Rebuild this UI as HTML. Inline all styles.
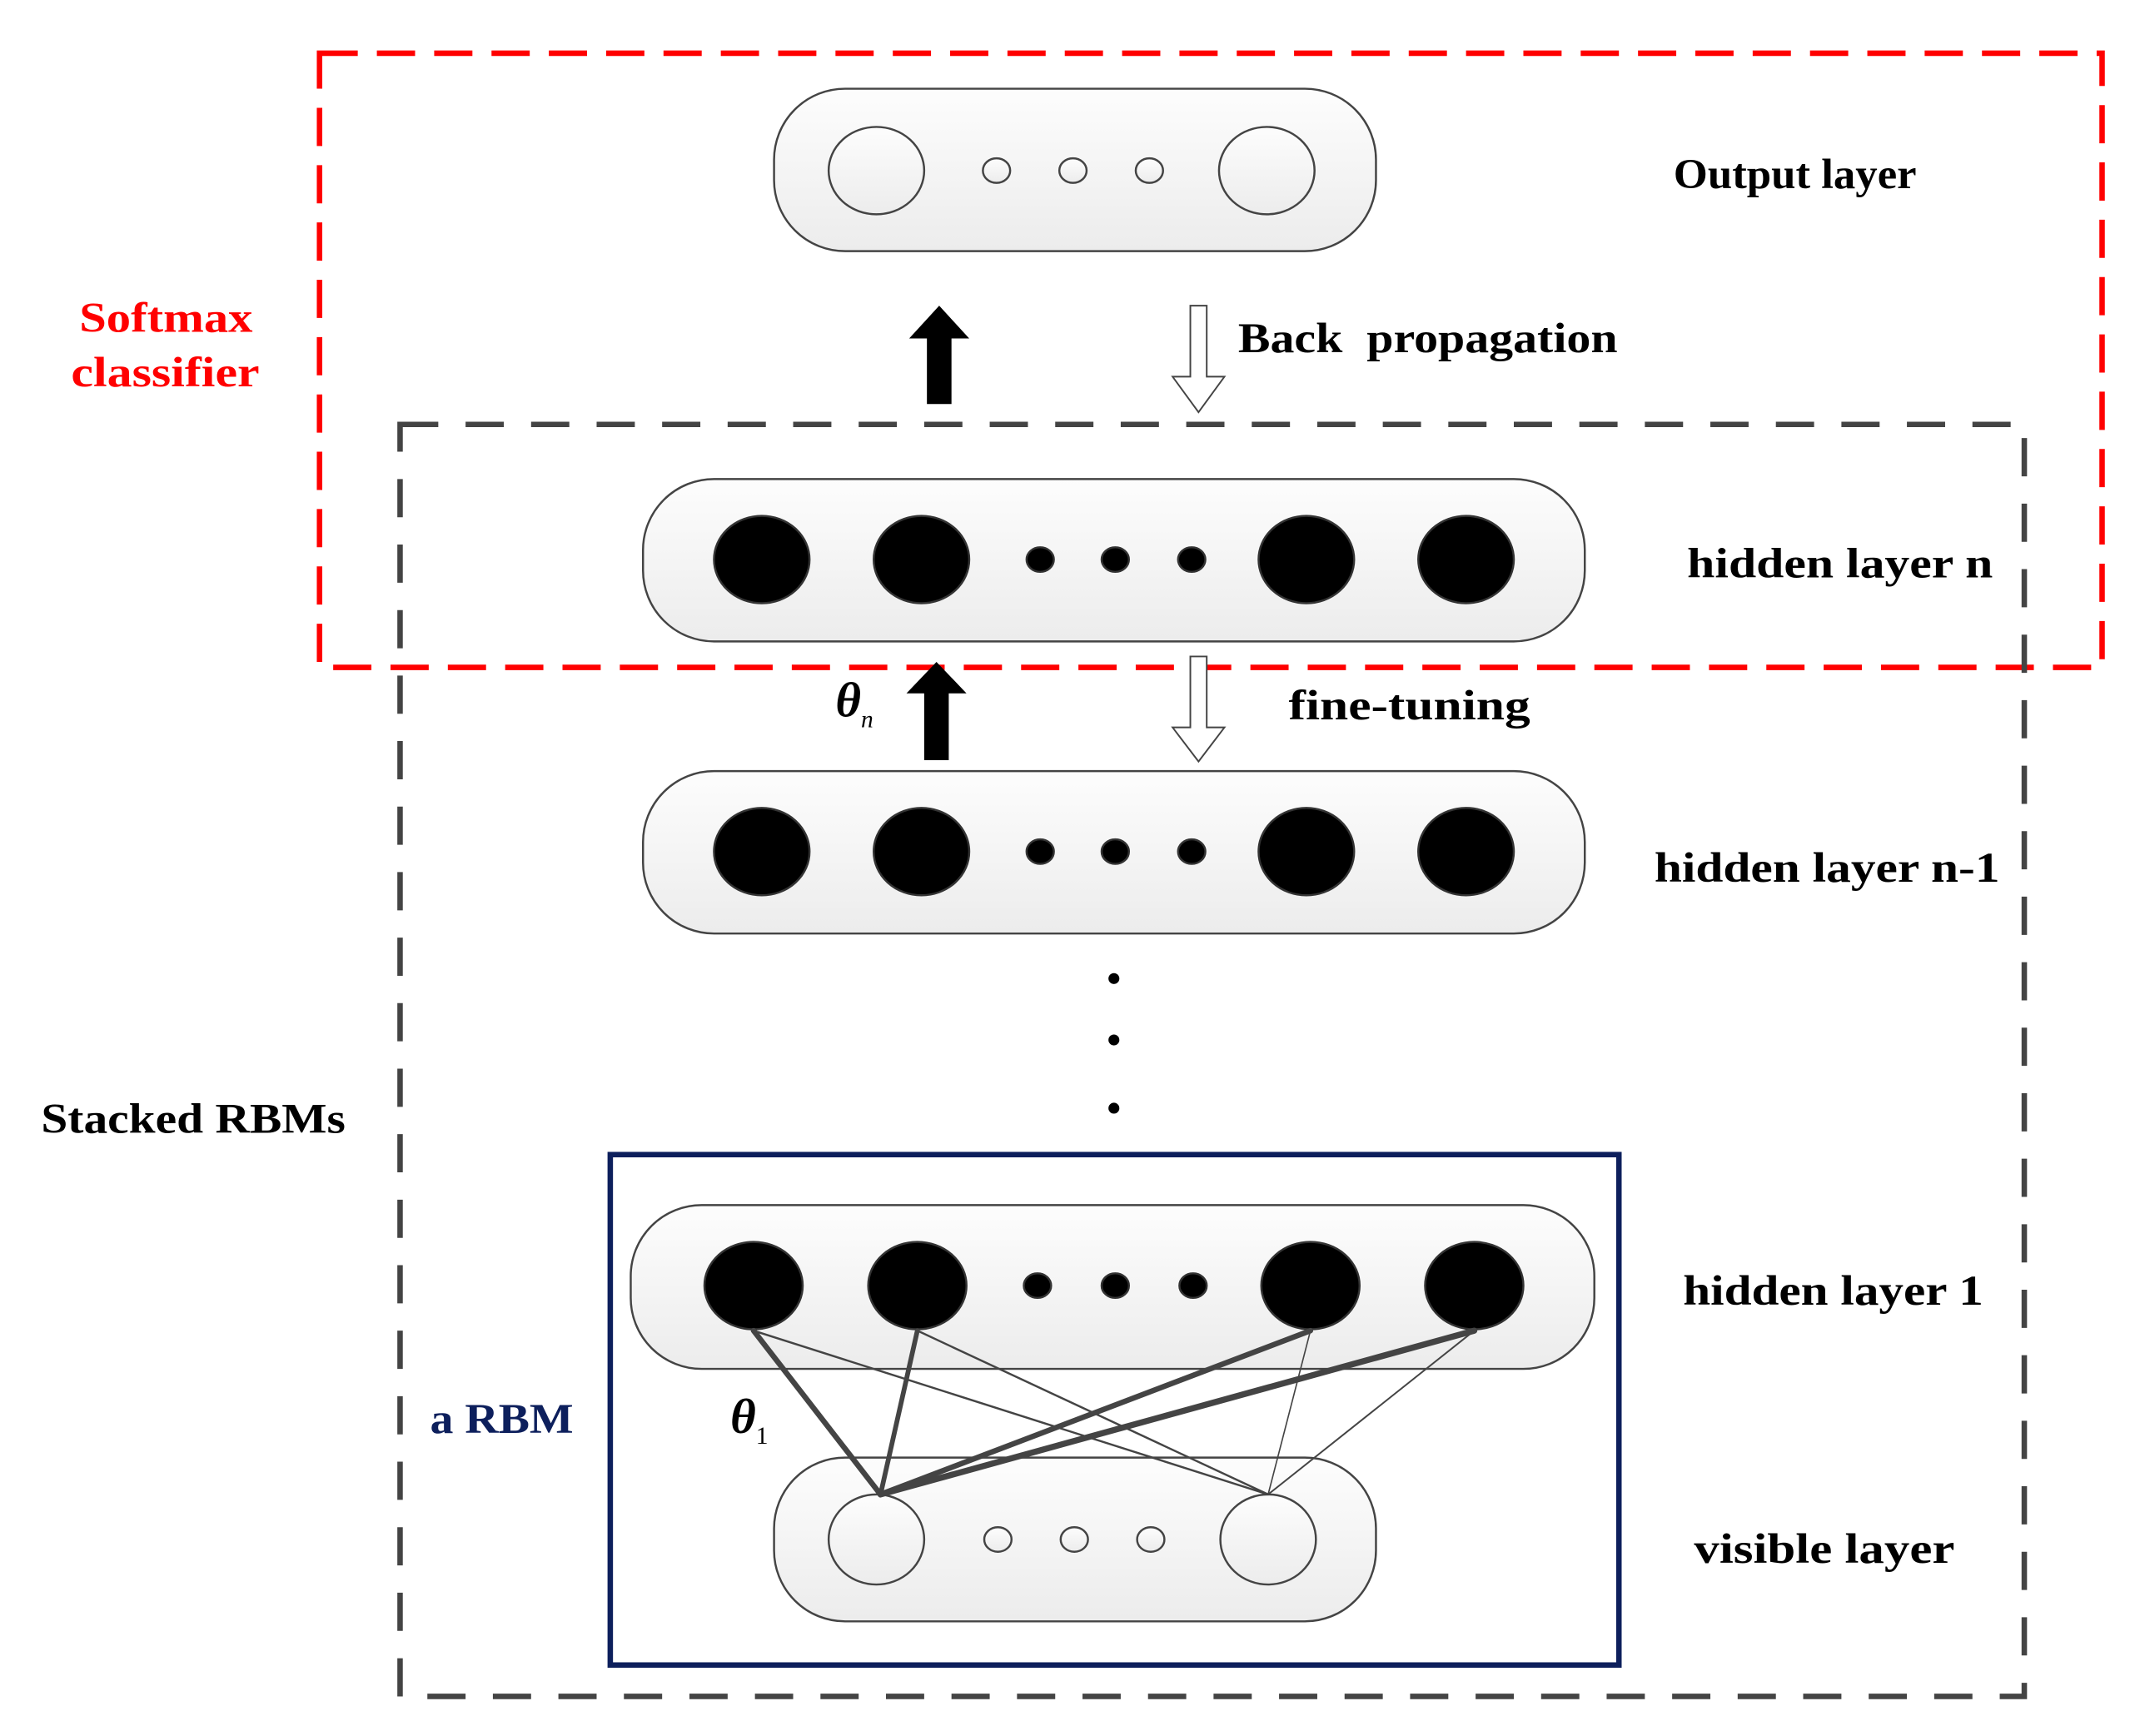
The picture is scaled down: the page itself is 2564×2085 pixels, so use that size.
<!DOCTYPE html>
<html><head><meta charset="utf-8"><style>html,body{margin:0;padding:0;background:#fff}svg{display:block}</style></head>
<body>
<svg width="2564" height="2085" viewBox="0 0 1564 1272" xmlns="http://www.w3.org/2000/svg" font-family="Liberation Serif, serif">
<defs>
<linearGradient id="pg" x1="0" y1="0" x2="0" y2="1"><stop offset="0" stop-color="#fdfdfd"/><stop offset="1" stop-color="#ececec"/></linearGradient>
</defs>
<rect x="234" y="39" width="1306" height="450" fill="none" stroke="#f00" stroke-width="4" stroke-dasharray="28,14"/>
<rect x="293" y="311" width="1190" height="932" fill="none" stroke="#444" stroke-width="4" stroke-dasharray="28,20"/>
<rect x="447" y="846" width="739" height="374" fill="none" stroke="#0d1f5c" stroke-width="4"/>
<g stroke="#444" stroke-width="1.5" fill="url(#pg)">
<rect x="567" y="65" width="441" height="119" rx="52"/>
<rect x="471" y="351" width="690" height="119" rx="52"/>
<rect x="471" y="565" width="690" height="119" rx="52"/>
<rect x="462" y="883" width="706" height="120" rx="52"/>
<rect x="567" y="1068" width="441" height="120" rx="52"/>
</g>
<g stroke="#444" stroke-width="1.5" fill="url(#pg)">
<ellipse cx="642" cy="125" rx="35" ry="32"/><ellipse cx="928" cy="125" rx="35" ry="32"/>
<ellipse cx="730" cy="125" rx="10" ry="9"/><ellipse cx="786" cy="125" rx="10" ry="9"/><ellipse cx="842" cy="125" rx="10" ry="9"/>
<ellipse cx="642" cy="1128" rx="35" ry="33"/><ellipse cx="929" cy="1128" rx="35" ry="33"/>
<ellipse cx="731" cy="1128" rx="10" ry="9"/><ellipse cx="787" cy="1128" rx="10" ry="9"/><ellipse cx="843" cy="1128" rx="10" ry="9"/>
</g>
<g fill="#000" stroke="#333" stroke-width="1.5">
<ellipse cx="558" cy="410" rx="35" ry="32"/><ellipse cx="675" cy="410" rx="35" ry="32"/><ellipse cx="957" cy="410" rx="35" ry="32"/><ellipse cx="1074" cy="410" rx="35" ry="32"/>
<ellipse cx="762" cy="410" rx="10" ry="9"/><ellipse cx="817" cy="410" rx="10" ry="9"/><ellipse cx="873" cy="410" rx="10" ry="9"/>
<ellipse cx="558" cy="624" rx="35" ry="32"/><ellipse cx="675" cy="624" rx="35" ry="32"/><ellipse cx="957" cy="624" rx="35" ry="32"/><ellipse cx="1074" cy="624" rx="35" ry="32"/>
<ellipse cx="762" cy="624" rx="10" ry="9"/><ellipse cx="817" cy="624" rx="10" ry="9"/><ellipse cx="873" cy="624" rx="10" ry="9"/>
<ellipse cx="552" cy="942" rx="36" ry="32"/><ellipse cx="672" cy="942" rx="36" ry="32"/><ellipse cx="960" cy="942" rx="36" ry="32"/><ellipse cx="1080" cy="942" rx="36" ry="32"/>
<ellipse cx="760" cy="942" rx="10" ry="9"/><ellipse cx="817" cy="942" rx="10" ry="9"/><ellipse cx="874" cy="942" rx="10" ry="9"/>
</g>
<g fill="#000"><circle cx="816" cy="717" r="4"/><circle cx="816" cy="762" r="4"/><circle cx="816" cy="812" r="4"/></g>
<g stroke="#444" fill="none" stroke-linecap="round">
<line x1="645" y1="1095" x2="552" y2="975" stroke-width="4"/>
<line x1="645" y1="1095" x2="672" y2="975" stroke-width="3.5"/>
<line x1="645" y1="1095" x2="960" y2="975" stroke-width="4"/>
<line x1="645" y1="1095" x2="1080" y2="975" stroke-width="4.5"/>
<line x1="929" y1="1095" x2="552" y2="975" stroke-width="1.5"/>
<line x1="929" y1="1095" x2="672" y2="975" stroke-width="1.5"/>
<line x1="929" y1="1095" x2="960" y2="975" stroke-width="1"/>
<line x1="929" y1="1095" x2="1080" y2="975" stroke-width="1.2"/>
</g>
<g fill="#000">
<polygon points="688,224 710,248 697,248 697,296 679,296 679,248 666,248"/>
<polygon points="686,485 708,508 695,508 695,557 677,557 677,508 664,508"/>
</g>
<g fill="#fff" stroke="#444" stroke-width="1.2">
<polygon points="872,224 884,224 884,276 897,276 878,302 859,276 872,276"/>
<polygon points="872,481 884,481 884,533 897,533 878,558 859,533 872,533"/>
</g>
<g font-size="31" fill="#000" font-weight="bold" lengthAdjust="spacingAndGlyphs">
<text x="1226" y="138" textLength="178" lengthAdjust="spacingAndGlyphs">Output layer</text>
<text x="907" y="258" xml:space="preserve" textLength="278" lengthAdjust="spacingAndGlyphs">Back  propagation</text>
<text x="1236" y="423" textLength="224" lengthAdjust="spacingAndGlyphs">hidden layer n</text>
<text x="944" y="527" textLength="177" lengthAdjust="spacingAndGlyphs">fine-tuning</text>
<text x="1212" y="646" textLength="253" lengthAdjust="spacingAndGlyphs">hidden layer n-1</text>
<text x="30" y="830" textLength="223" lengthAdjust="spacingAndGlyphs">Stacked RBMs</text>
<text x="1233" y="956" textLength="220" lengthAdjust="spacingAndGlyphs">hidden layer 1</text>
<text x="1241" y="1145" textLength="191" lengthAdjust="spacingAndGlyphs">visible layer</text>
<text x="612" y="525" font-style="italic" font-weight="bold" font-size="36">θ<tspan font-size="18" font-weight="normal" dy="8">n</tspan></text>
<text x="535" y="1050" font-style="italic" font-weight="bold" font-size="36">θ<tspan font-size="18" font-weight="normal" font-style="normal" dy="8">1</tspan></text>
</g>
<g font-size="31" fill="#f00" font-weight="bold">
<text x="58" y="243" textLength="127" lengthAdjust="spacingAndGlyphs">Softmax</text>
<text x="52" y="283" textLength="138" lengthAdjust="spacingAndGlyphs">classifier</text>
</g>
<text x="315" y="1050" font-size="31" font-weight="bold" fill="#0d1f5c" textLength="105" lengthAdjust="spacingAndGlyphs">a RBM</text>
</svg>
</body></html>
